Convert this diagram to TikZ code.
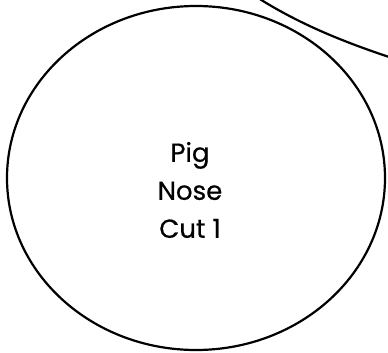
\documentclass[tikz,border=0pt]{standalone}
\usepackage{fontspec}
\newfontfamily\labelfont[FakeBold=0.6]{Poppins}
\tikzset{
  outline/.style={draw=black, line width=2.2pt},
  cutlabel/.style={font=\labelfont\fontsize{26}{38}\selectfont, align=center, inner sep=0pt}
}
\begin{document}
\begin{tikzpicture}[x=1pt, y=-1pt]
\useasboundingbox (0,0) rectangle (388,353);
\begin{scope}
\clip (0,0) rectangle (388,353);
\draw[outline] (196,178) ellipse [x radius=189, y radius=172];
\coordinate (c1) at (255,-4);
\coordinate (c2) at (392,58);
\draw[outline] (c1) .. controls (300,25) and (347,43) .. (c2);
\end{scope}
\node[cutlabel] (label) at (190,190) {Pig\\Nose\\Cut 1};
\end{tikzpicture}
\end{document}
